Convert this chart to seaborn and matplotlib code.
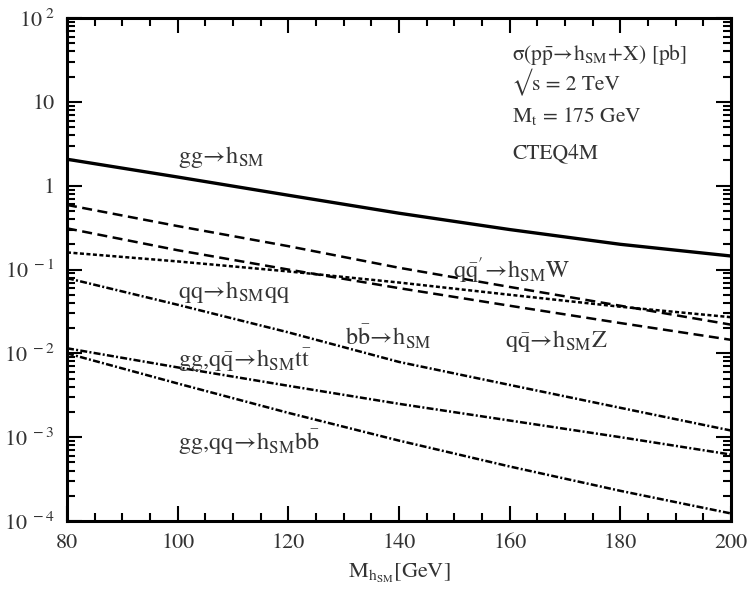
import numpy as np
import pandas as pd
import matplotlib
matplotlib.use('Agg')
import matplotlib.pyplot as plt
import matplotlib.ticker as mticker
import seaborn as sns

# Higgs mass points [GeV]
mass = [80, 100, 120, 140, 160, 180, 200]

# cross sections [pb]
gg_h = [2.07, 1.27, 0.77, 0.47, 0.30, 0.20, 0.145]
qq_hw = [0.59, 0.33, 0.19, 0.105, 0.062, 0.037, 0.022]
qq_hz = [0.31, 0.17, 0.10, 0.060, 0.037, 0.023, 0.0145]
qq_hqq = [0.16, 0.125, 0.095, 0.070, 0.050, 0.036, 0.027]
bb_h = [0.079, 0.038, 0.0178, 0.0079, 0.0042, 0.00224, 0.0012]
gg_htt = [0.0115, 0.0068, 0.0041, 0.0025, 0.00158, 0.0010, 0.00062]
gg_hbb = [0.010, 0.00437, 0.00195, 0.00091, 0.000447, 0.000229, 0.000123]

xticks = [80, 100, 120, 140, 160, 180, 200]
yticks = [1e-4, 1e-3, 1e-2, 1e-1, 1, 10, 100]

series = {
    'gg_h': gg_h, 'qq_hw': qq_hw, 'qq_hz': qq_hz, 'qq_hqq': qq_hqq,
    'bb_h': bb_h, 'gg_htt': gg_htt, 'gg_hbb': gg_hbb,
}
dash_map = {
    'gg_h': '', 'qq_hw': (4, 2.2), 'qq_hz': (4, 2.2), 'qq_hqq': (1.6, 1),
    'bb_h': (2.8, 0.9, 0.8, 0.9), 'gg_htt': (2.8, 0.9, 0.8, 0.9), 'gg_hbb': (2.8, 0.9, 0.8, 0.9),
}

df = pd.concat(
    [pd.DataFrame({'mass': mass, 'sigma': v, 'process': k}) for k, v in series.items()],
    ignore_index=True,
)

sns.set_style('ticks')
plt.rcParams['font.family'] = ['STIXGeneral', 'DejaVu Serif']
plt.rcParams['mathtext.fontset'] = 'stix'

fig = plt.figure(figsize=(7.51, 6.03), dpi=100)
ax = fig.add_axes([0.0892, 0.136, 0.8842, 0.834])

sns.lineplot(data=df, x='mass', y='sigma', style='process', dashes=dash_map,
             color='black', legend=False, ax=ax, lw=1.8)
# the gg line is drawn heavier
ax.lines[0].set_linewidth(2.4)

ax.set_yscale('log')
ax.set_xlim(80, 200)
ax.set_ylim(1e-4, 1e2)

ax.set_xticks(xticks)
ax.set_xticklabels([str(t) for t in xticks])
ax.xaxis.set_minor_locator(mticker.FixedLocator(np.arange(85, 200, 5)))
ax.set_yticks(yticks)
minor_y = [m * 10.0 ** e for e in range(-4, 2) for m in range(2, 10)]
ax.yaxis.set_minor_locator(mticker.FixedLocator(minor_y))
ax.yaxis.set_minor_formatter(mticker.NullFormatter())


def ylab(v):
    e = int(round(np.log10(v)))
    if e == 0:
        return '1'
    if e == 1:
        return '10'
    return r'$\mathregular{10^{\ %d}}$' % e


ax.set_yticklabels([ylab(v) for v in yticks])

ax.tick_params(which='both', direction='in', top=True, right=True, color='black', width=1.5)
ax.tick_params(which='major', length=11, labelsize=16, pad=9, labelcolor='#333333')
ax.tick_params(which='minor', length=6)
for s in ax.spines.values():
    s.set_linewidth(2.2)
    s.set_color('black')

ax.set_xlabel(r'$\mathregular{M_{h_{SM}}}$[GeV]', fontsize=16, color='#333333', labelpad=6)
ax.yaxis.label.set_visible(False)

txt = dict(fontsize=17.5, color='#333333', va='baseline', ha='left')
ax.text(100, 1.85, r'$\mathregular{gg\!\rightarrow\! h_{SM}}$', **txt)
ax.text(100, 0.046, r'$\mathregular{qq\!\rightarrow\! h_{SM}qq}$', **txt)
ax.text(130.2, 0.0125, r'$\mathregular{b\bar{b}\!\rightarrow\! h_{SM}}$', **txt)
ax.text(100, 0.0068, r'$\mathregular{gg{,}q\bar{q}\!\rightarrow\! h_{SM}t\bar{t}}$', **txt)
ax.text(100, 0.0007, r'$\mathregular{gg{,}qq\!\rightarrow\! h_{SM}b\bar{b}}$', **txt)
ax.text(149.8, 0.079, r"$\mathregular{q\bar{q}'\!\rightarrow\! h_{SM}W}$", **txt)
ax.text(159.2, 0.0118, r'$\mathregular{q\bar{q}\!\rightarrow\! h_{SM}Z}$', **txt)

info = dict(fontsize=15.5, color='#333333', va='baseline', ha='left')
ax.text(160.4, 31.6, r'$\mathregular{\sigma(p\bar{p}\!\rightarrow\! h_{SM}\!+\!X)}$ [pb]', **info)
ax.text(160.4, 13.8, '√s = 2 TeV', **info)
ax.text(160.4, 5.8, r'$\mathregular{M_t}$ = 175 GeV', **info)
ax.text(160.4, 2.14, 'CTEQ4M', **info)

fig.savefig('out.png', dpi=100)
